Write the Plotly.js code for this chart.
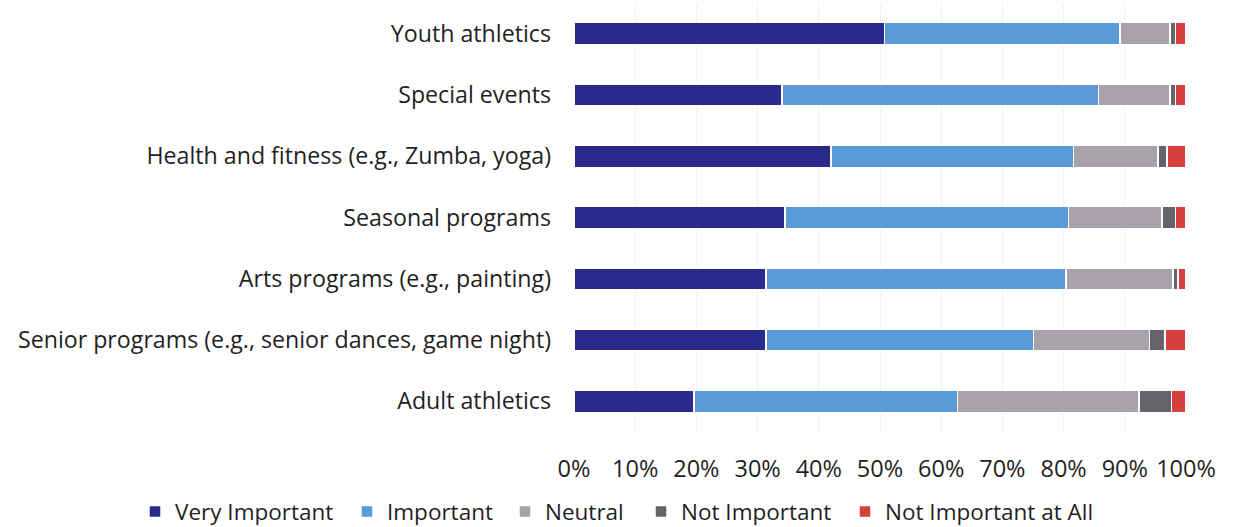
<!DOCTYPE html>
<html>
<head>
<meta charset="utf-8">
<script src="https://cdn.plot.ly/plotly-3.0.1.min.js"></script>
<style>html,body{margin:0;padding:0;background:#fff;}#chart{width:1236px;height:527px;}</style>
</head>
<body>
<div id="chart"></div>
<script>
const categories = [
  "Youth athletics",
  "Special events",
  "Health and fitness (e.g., Zumba, yoga)",
  "Seasonal programs",
  "Arts programs (e.g., painting)",
  "Senior programs (e.g., senior dances, game night)",
  "Adult athletics"
];
const seriesNames = ["Very Important", "Important", "Neutral", "Not Important", "Not Important at All"];
const veryImportant    = [50.7, 34.0, 42.0, 34.5, 31.4, 31.4, 19.6];
const important        = [38.5, 51.7, 39.6, 46.3, 49.0, 43.7, 43.1];
const neutral          = [ 8.2, 11.7, 13.8, 15.3, 17.5, 18.9, 29.6];
const notImportant     = [ 0.9,  0.9,  1.5,  2.2,  0.8,  2.6,  5.3];
const notImportantAtAll= [ 1.7,  1.7,  3.1,  1.7,  1.3,  3.4,  2.4];
const tickVals = [0,10,20,30,40,50,60,70,80,90,100];
const tickText = ["0%","10%","20%","30%","40%","50%","60%","70%","80%","90%","100%"];

const colors = ["#2b2a8c", "#5a9ad6", "#a8a3aa", "#67636b", "#d8403f"];
const values = [veryImportant, important, neutral, notImportant, notImportantAtAll];

// one legend box per series so each entry sits where the original legend puts it
const legendIds = ["legend", "legend2", "legend3", "legend4", "legend5"];
const legendLeftPx = [135, 347, 505, 641, 845];
const plotLeft = 574, plotWidth = 612;

const traces = values.map((v, i) => ({
  type: "bar",
  orientation: "h",
  name: seriesNames[i],
  legend: legendIds[i],
  x: v,
  y: categories,
  marker: {color: colors[i], line: {color: "#ffffff", width: 1.5}},
  hoverinfo: "x+name"
}));

const font = "'Open Sans', Lato, sans-serif";
const layout = {
  width: 1236, height: 527,
  barmode: "stack",
  bargap: 0.64,
  paper_bgcolor: "#ffffff",
  plot_bgcolor: "#ffffff",
  margin: {l: 574, r: 50, t: 3, b: 95, autoexpand: false},
  font: {family: font, size: 20, color: "#1f1f1f"},
  xaxis: {
    range: [0, 100],
    tickvals: tickVals,
    ticktext: tickText,
    showgrid: true,
    gridcolor: "#f2f2f2",
    zeroline: false,
    showline: false,
    ticks: "",
    ticklabelstandoff: 20,
    tickfont: {size: 23.5, color: "#1f1f1f", family: font},
    fixedrange: true
  },
  yaxis: {
    autorange: "reversed",
    showgrid: false,
    zeroline: false,
    showline: false,
    ticks: "",
    ticklabelstandoff: 22,
    tickfont: {size: 23.2, color: "#1f1f1f", family: font},
    fixedrange: true
  },
  showlegend: true
};

legendIds.forEach((id, i) => {
  layout[id] = {
    orientation: "h",
    xref: "paper", yref: "paper",
    x: (legendLeftPx[i] - plotLeft) / plotWidth,
    y: -0.186,
    xanchor: "left", yanchor: "middle",
    font: {size: 22.5, color: "#1f1f1f", family: font},
    itemwidth: 30,
    bgcolor: "rgba(0,0,0,0)"
  };
});

Plotly.newPlot("chart", traces, layout, {displayModeBar: false, staticPlot: true});
</script>
</body>
</html>
